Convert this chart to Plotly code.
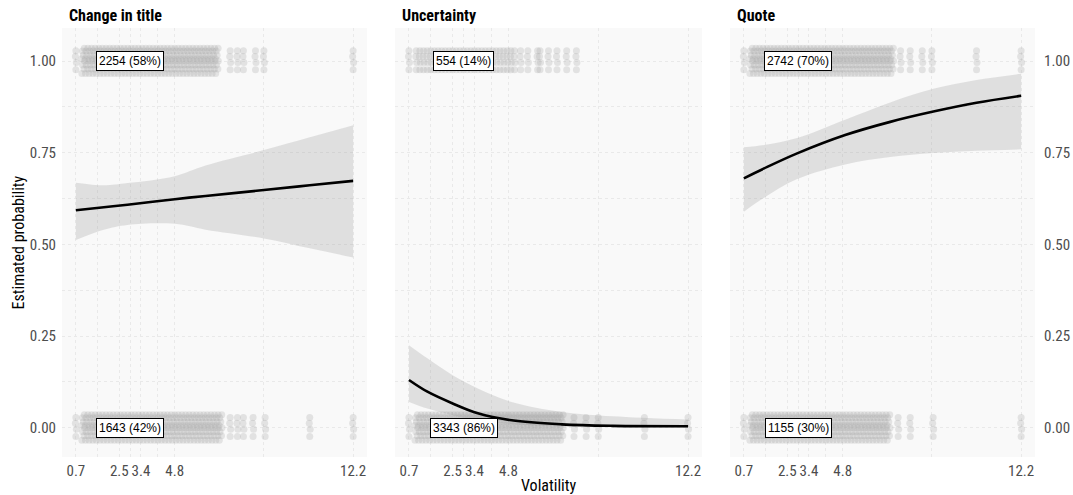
import plotly.graph_objects as go

# ---------------- data ----------------
panels = ["Change in title", "Uncertainty", "Quote"]
x_ticks = [0.7, 2.5, 3.4, 4.8, 12.2]
x_minor = [1.6, 2.95, 4.1, 8.5]
y_ticks = [0, 0.25, 0.5, 0.75, 1.0]
y_ticklabels = ["0.00", "0.25", "0.50", "0.75", "1.00"]

counts_yes = ["2254 (58%)", "554 (14%)", "2742 (70%)"]
counts_no = ["1643 (42%)", "3343 (86%)", "1155 (30%)"]
label_x = 2.95

# fitted curves
fit1_x = [0.7, 1.86, 2.84, 4.8, 6.08, 8.5, 10.4, 12.2]
fit1_y = [0.593, 0.601, 0.608, 0.623, 0.632, 0.648, 0.661, 0.673]
fit1_hi = [0.668, 0.661, 0.667, 0.686, 0.715, 0.757, 0.792, 0.825]
fit1_lo = [0.512, 0.540, 0.553, 0.556, 0.540, 0.516, 0.489, 0.464]

fit2_x = [0.7, 1.46, 2.5, 3.54, 4.93, 7.0, 9.1, 12.2]
fit2_y = [0.130, 0.098, 0.066, 0.039, 0.020, 0.009, 0.005, 0.004]
fit2_hi = [0.225, 0.189, 0.143, 0.107, 0.070, 0.043, 0.031, 0.022]
fit2_lo = [0.070, 0.052, 0.034, 0.020, 0.010, 0.003, 0.001, 0.000]

fit3_x = [0.7, 1.54, 2.91, 4.9, 6.77, 8.56, 10.35, 12.2]
fit3_y = [0.680, 0.707, 0.748, 0.798, 0.834, 0.862, 0.886, 0.905]
fit3_hi = [0.765, 0.771, 0.790, 0.840, 0.887, 0.924, 0.948, 0.965]
fit3_lo = [0.589, 0.627, 0.678, 0.718, 0.738, 0.749, 0.755, 0.759]

# observed volatility levels (dense part)
vol_grid = [1.0, 1.15, 1.3, 1.45, 1.6, 1.75, 1.9, 2.05, 2.2, 2.35, 2.5, 2.65,
            2.8, 2.95, 3.1, 3.25, 3.4, 3.55, 3.7, 3.85, 4.0, 4.15, 4.3, 4.45,
            4.6, 4.75, 4.9, 5.05, 5.2, 5.35, 5.5, 5.65, 5.8, 5.95, 6.1, 6.25,
            6.4, 6.55, 6.7, 6.85, 7.0]
dense_max_yes = [6.55, 5.05, 6.85]
dense_max_no = [6.7, 7.0, 6.7]
sparse_yes = [[0.7, 7.1, 7.4, 7.65, 8.15, 8.5, 12.2],
              [0.7, 5.3, 5.6, 6.0, 6.1, 6.45, 6.8, 7.2, 7.6],
              [0.7, 7.2, 7.6, 8.1, 8.5, 10.35, 12.2]]
sparse_no = [[0.7, 7.1, 7.4, 7.65, 8.05, 8.55, 10.4, 12.2],
             [0.7, 7.5, 8.0, 8.5, 10.4, 12.2],
             [0.7, 7.1, 7.6, 8.55, 12.2]]

fits = [(fit1_x, fit1_y, fit1_hi, fit1_lo),
        (fit2_x, fit2_y, fit2_hi, fit2_lo),
        (fit3_x, fit3_y, fit3_hi, fit3_lo)]

# ---------------- style ----------------
# (dx, dy) jitter pattern for one observed level
dense_rows = [(-0.05, -0.034), (0.04, -0.022), (-0.02, -0.011), (0.06, 0.0),
              (-0.06, 0.006), (0.01, 0.016), (-0.03, 0.027), (0.05, 0.035)]
light_rows = [(0.0, -0.024), (0.02, -0.004), (-0.02, 0.012), (0.0, 0.028)]
FONT = "Roboto Condensed, Roboto, Liberation Sans Narrow, sans-serif"
PT_COLOR = "rgba(165,165,165,0.26)"
PT_LIGHT = "rgba(170,170,170,0.28)"
RIB_COLOR = "rgba(150,150,150,0.26)"
GRID = "#e9e9e9"
DASH = "3px,3px"

W, H = 1073, 495
xdom_px = [(62, 367), (395, 702), (730, 1035)]
ydom = [1 - 457 / H, 1 - 28 / H]

fig = go.Figure()


def jitter_points(xs, base, rows):
    px, py = [], []
    for x in xs:
        for dx, dy in rows:
            px.append(x + dx)
            py.append(base + dy)
    return px, py


for i in range(3):
    xa = "x" if i == 0 else f"x{i+1}"
    ya = "y" if i == 0 else f"y{i+1}"
    dens_yes = [v for v in vol_grid if v <= dense_max_yes[i]]
    dens_no = [v for v in vol_grid if v <= dense_max_no[i]]
    rows_yes = light_rows if i == 1 else dense_rows
    col_yes = PT_LIGHT if i == 1 else PT_COLOR
    for xs, base, rows, col in [(dens_yes, 1.0, rows_yes, col_yes),
                                (sparse_yes[i], 1.0, light_rows, PT_LIGHT),
                                (dens_no, 0.0, dense_rows, PT_COLOR),
                                (sparse_no[i], 0.0, light_rows, PT_LIGHT)]:
        px, py = jitter_points(xs, base, rows)
        fig.add_trace(go.Scatter(x=px, y=py, mode="markers", xaxis=xa, yaxis=ya,
                                 marker=dict(size=7, color=col, line=dict(width=0)),
                                 showlegend=False, hoverinfo="skip"))
    fx, fy, fhi, flo = fits[i]
    fig.add_trace(go.Scatter(x=fx, y=flo, mode="lines", xaxis=xa, yaxis=ya,
                             line=dict(width=0, shape="spline"), showlegend=False,
                             hoverinfo="skip"))
    fig.add_trace(go.Scatter(x=fx, y=fhi, mode="lines", xaxis=xa, yaxis=ya,
                             line=dict(width=0, shape="spline"), fill="tonexty",
                             fillcolor=RIB_COLOR, showlegend=False, hoverinfo="skip"))
    fig.add_trace(go.Scatter(x=fx, y=fy, mode="lines", xaxis=xa, yaxis=ya,
                             line=dict(width=2.6, color="black", shape="spline"),
                             showlegend=False))

    x0, x1 = xdom_px[i]
    axis_x = dict(domain=[x0 / W, x1 / W], range=[0.125, 12.775],
                  tickvals=x_ticks, ticktext=[str(v) for v in x_ticks],
                  tickangle=0, automargin=False,
                  showgrid=True, gridcolor=GRID, griddash=DASH, gridwidth=1,
                  zeroline=False, showline=False, ticks="",
                  tickfont=dict(family=FONT, size=15, color="#4d4d4d"),
                  ticklabelstandoff=3,
                  minor=dict(tickvals=x_minor, showgrid=True, gridcolor=GRID,
                             griddash=DASH, gridwidth=1),
                  anchor=ya, fixedrange=True)
    axis_y = dict(domain=ydom, range=[-0.08, 1.09], tickvals=y_ticks,
                  ticktext=y_ticklabels, showgrid=True, gridcolor=GRID,
                  griddash=DASH, gridwidth=1, zeroline=False, showline=False,
                  automargin=False,
                  ticks="", tickfont=dict(family=FONT, size=15, color="#4d4d4d"),
                  minor=dict(tickvals=[0.125, 0.375, 0.625, 0.875], showgrid=True,
                             gridcolor=GRID, griddash=DASH, gridwidth=1),
                  anchor=xa, fixedrange=True)
    if i == 0:
        axis_y.update(side="left", showticklabels=True, ticklabelstandoff=5)
    elif i == 1:
        axis_y.update(showticklabels=False)
    else:
        axis_y.update(side="right", showticklabels=True, ticklabelstandoff=8)
    key = "" if i == 0 else str(i + 1)
    fig.layout["xaxis" + key] = axis_x
    fig.layout["yaxis" + key] = axis_y

    fig.add_shape(type="rect", xref="paper", yref="paper", x0=x0 / W, x1=x1 / W,
                  y0=ydom[0], y1=ydom[1], fillcolor="#f9f9f9", line=dict(width=0),
                  layer="below")

    # panel title
    fig.add_annotation(text=f"<b>{panels[i]}</b>", xref="paper", yref="paper",
                       x=(x0 + 5) / W, y=1 - 16 / H, xanchor="left", yanchor="middle",
                       showarrow=False, font=dict(family=FONT, size=16, color="black"))
    # count labels
    for yy, txt in [(1.0, counts_yes[i]), (0.0, counts_no[i])]:
        fig.add_annotation(text=txt, x=label_x, y=yy, xref=xa, yref=ya,
                           showarrow=False, bgcolor="white", bordercolor="black",
                           borderwidth=1, borderpad=2,
                           font=dict(family="Liberation Sans, Arial, sans-serif",
                                     size=12, color="black"))

fig.add_annotation(text="Volatility", xref="paper", yref="paper", x=548.5 / W,
                   y=1 - 485 / H, xanchor="center", yanchor="middle", showarrow=False,
                   font=dict(family=FONT, size=16, color="black"))
fig.add_annotation(text="Estimated probability", xref="paper", yref="paper",
                   x=18 / W, y=1 - 242.5 / H, xanchor="center", yanchor="middle",
                   textangle=-90, showarrow=False,
                   font=dict(family=FONT, size=16, color="black"))

fig.update_layout(width=W, height=H, margin=dict(l=0, r=0, t=0, b=0),
                  paper_bgcolor="white", plot_bgcolor="rgba(0,0,0,0)",
                  showlegend=False)

fig.write_html("out.html", config={"displayModeBar": False})
